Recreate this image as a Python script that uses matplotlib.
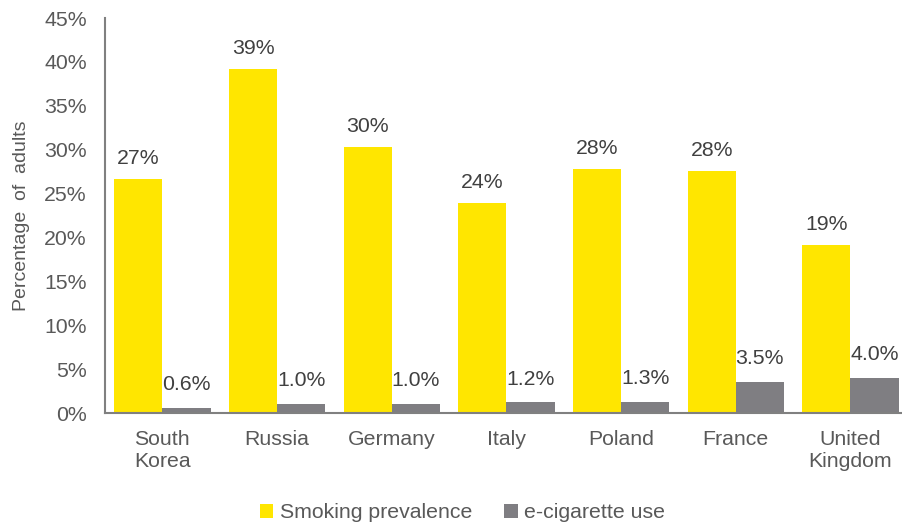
import matplotlib.pyplot as plt
import numpy as np
from matplotlib.ticker import FuncFormatter

plt.rcParams["font.family"] = ["Liberation Sans", "DejaVu Sans"]

countries = ["South\nKorea", "Russia", "Germany", "Italy", "Poland", "France", "United\nKingdom"]
smoking = [26.7, 39.2, 30.3, 23.9, 27.8, 27.6, 19.1]
ecig = [0.6, 1.0, 1.0, 1.2, 1.3, 3.5, 4.0]

YELLOW = "#FFE600"
GREY = "#7F7E82"
TEXT = "#595959"
FS = 15.3

fig = plt.figure(figsize=(9.03, 5.24), dpi=100)
ax = fig.add_axes([0.1163, 0.2118, 0.889, 0.7538])

x = np.arange(len(countries))
w = 0.42
b1 = ax.bar(x - w / 2, smoking, width=w, color=YELLOW, label="Smoking prevalence")
b2 = ax.bar(x + w / 2, ecig, width=w, color=GREY, label="e-cigarette use")

for rect, v in zip(b1, smoking):
    ax.annotate(f"{v:.0f}%", (rect.get_x() + rect.get_width() / 2, v),
                xytext=(0, 8), textcoords="offset points", ha="center", va="bottom",
                fontsize=FS, color="#404040")
for rect, v in zip(b2, ecig):
    ax.annotate(f"{v:.1f}%", (rect.get_x() + rect.get_width() / 2, v),
                xytext=(0, 10), textcoords="offset points", ha="center", va="bottom",
                fontsize=FS, color="#404040")

ax.set_xlim(-0.5, len(countries) - 0.5)
ax.set_ylim(0, 45)
ax.set_yticks(np.arange(0, 46, 5))
ax.yaxis.set_major_formatter(FuncFormatter(lambda v, p: f"{v:.0f}%"))
ax.set_xticks(x)
ax.set_xticklabels(countries)
ax.tick_params(length=0, labelsize=FS, colors=TEXT)
ax.tick_params(axis="x", pad=12)
ax.tick_params(axis="y", pad=13)

for s in ["top", "right"]:
    ax.spines[s].set_visible(False)
for s in ["left", "bottom"]:
    ax.spines[s].set_color("#808080")
    ax.spines[s].set_linewidth(1.5)

ax.set_ylabel("Percentage  of  adults", fontsize=14, color=TEXT)
ax.yaxis.set_label_coords(-0.093, 0.5)

fig.legend(handles=[b1, b2], loc="center", bbox_to_anchor=(0.512, 0.021), ncol=2,
           frameon=False, fontsize=FS, handlelength=0.65, handleheight=0.65,
           handletextpad=0.3, columnspacing=1.5, labelcolor=TEXT)

fig.savefig("out.png", dpi=100)
